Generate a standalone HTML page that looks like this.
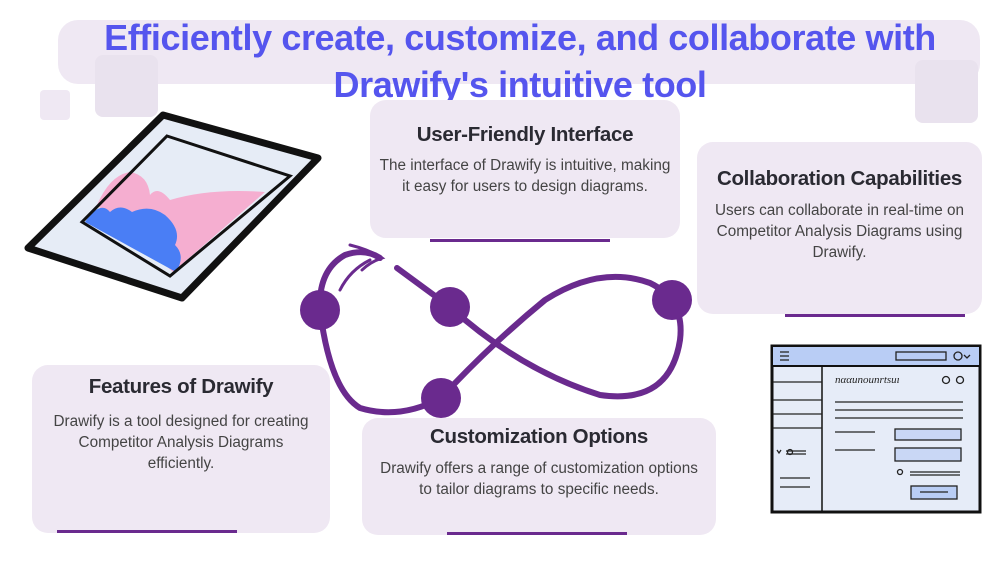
<!DOCTYPE html>
<html><head><meta charset="utf-8"><style>
body{margin:0;width:1000px;height:563px;background:#fff;position:relative;overflow:hidden;font-family:"Liberation Sans",sans-serif}
.b{position:absolute;background:#efe8f3;border-radius:16px}
.t{position:absolute;text-align:center;color:#222;white-space:nowrap}
.h{font-weight:bold;font-size:20.5px;color:#2a2a32;letter-spacing:-0.3px}
.p{font-size:15.3px;line-height:21px;color:#444}
.u{position:absolute;height:3px;background:#6a2a8e}
</style></head><body>
<div class="b" style="left:58px;top:20px;width:922px;height:64px;border-radius:20px"></div>
<div class="b" style="left:40px;top:90px;width:30px;height:30px;border-radius:4px"></div>
<div class="b" style="left:95px;top:55px;width:63px;height:62px;border-radius:8px;background:#e9e2ee"></div>
<div class="b" style="left:915px;top:60px;width:63px;height:63px;border-radius:8px;background:#e9e2ee"></div>
<div class="t" style="left:20px;top:14px;width:1000px;font-size:36px;font-weight:bold;line-height:47px;color:#5555ee;letter-spacing:-0.4px">Efficiently create, customize, and collaborate with<br>Drawify's intuitive tool</div>

<div class="b" style="left:370px;top:100px;width:310px;height:138px"></div>
<div class="t h" style="left:370px;top:123px;width:310px">User-Friendly Interface</div>
<div class="t p" style="left:370px;top:155px;width:310px">The interface of Drawify is intuitive, making<br>it easy for users to design diagrams.</div>
<div class="u" style="left:430px;top:239px;width:180px"></div>

<div class="b" style="left:697px;top:142px;width:285px;height:172px"></div>
<div class="t h" style="left:697px;top:167px;width:285px">Collaboration Capabilities</div>
<div class="t p" style="left:697px;top:200px;width:285px">Users can collaborate in real-time on<br>Competitor Analysis Diagrams using<br>Drawify.</div>
<div class="u" style="left:785px;top:314px;width:180px"></div>

<div class="b" style="left:32px;top:365px;width:298px;height:168px"></div>
<div class="t h" style="left:32px;top:375px;width:298px">Features of Drawify</div>
<div class="t p" style="left:32px;top:411px;width:298px">Drawify is a tool designed for creating<br>Competitor Analysis Diagrams<br>efficiently.</div>
<div class="u" style="left:57px;top:530px;width:180px"></div>

<div class="b" style="left:362px;top:418px;width:354px;height:117px"></div>
<div class="t h" style="left:362px;top:425px;width:354px">Customization Options</div>
<div class="t p" style="left:362px;top:458px;width:354px">Drawify offers a range of customization options<br>to tailor diagrams to specific needs.</div>
<div class="u" style="left:447px;top:532px;width:180px"></div>

<svg style="position:absolute;left:0;top:0" width="1000" height="563">
<polygon points="163,115 318,158 182,298 28,248" fill="#e6ecf6" stroke="#111" stroke-width="7" stroke-linejoin="round"/>
<polygon points="167,136 290,176 170,276 82,222" fill="#e6ecf6"/>
<path d="M97,205 Q110,175 130,172 Q148,175 150,195 Q158,185 170,200 Q210,188 265,192 L173,272 Z" fill="#f5aed0"/>
<path d="M85,222 Q100,200 110,212 Q120,203 132,212 Q150,204 165,215 Q182,230 175,245 Q186,256 176,272 Z" fill="#4a7ef5"/>
<polygon points="167,136 290,176 170,276 82,222" fill="none" stroke="#111" stroke-width="3"/>
<g fill="none" stroke="#6a2a8e" stroke-width="6" stroke-linecap="round">
<path d="M397,268 L450,307 Q520,370 600,395 Q670,405 680,340 Q685,300 650,283 Q600,265 545,300 Q490,345 441,398 Q400,420 360,408 Q330,390 320,310 Q318,270 345,255 Q365,248 380,258"/>
<path d="M340,290 Q350,270 370,260" stroke-width="3"/>
<path d="M350,245 Q370,250 382,258 Q370,262 362,270" stroke-width="3"/>
</g>
<g fill="#6a2a8e"><circle cx="320" cy="310" r="20"/><circle cx="450" cy="307" r="20"/><circle cx="672" cy="300" r="20"/><circle cx="441" cy="398" r="20"/></g>
<rect x="772" y="346" width="208" height="166" fill="#e6ecf8" stroke="#111" stroke-width="3"/>
<rect x="772" y="346" width="208" height="20" fill="#b9cdf5" stroke="#111" stroke-width="2"/>
<line x1="822" y1="366" x2="822" y2="512" stroke="#111" stroke-width="1.5"/>
<g stroke="#222" stroke-width="1.3" fill="none">
<path d="M780,352h9M780,356h9M780,360h9"/>
<rect x="896" y="352" width="50" height="8" fill="#b9cdf5"/><circle cx="958" cy="356" r="4"/><path d="M964,355l3,3 3,-3"/>
<path d="M773,382h49M773,400h49M773,414h49M773,428h49M780,478h30M780,487h30M786,451h20M786,454h20"/>
<circle cx="790" cy="452" r="2.5"/><path d="M777,450l2,3 2,-3"/>
<circle cx="946" cy="380" r="3.5"/><circle cx="960" cy="380" r="3.5"/>
<path d="M835,402h128M835,410h128M835,418h128M835,432h40M835,450h40"/>
<rect x="895" y="429" width="66" height="11" fill="#c9d7f5"/><rect x="895" y="448" width="66" height="13" fill="#c9d7f5"/>
<circle cx="900" cy="472" r="2.5"/><path d="M910,472h50M910,475h50"/>
<rect x="911" y="486" width="46" height="13" fill="#b9cdf5"/><path d="M920,492h28"/>
</g>
<text x="835" y="383" font-family="Liberation Serif" font-style="italic" font-size="11" fill="#222">nααunounrtsuı</text>
</svg>
</body></html>
